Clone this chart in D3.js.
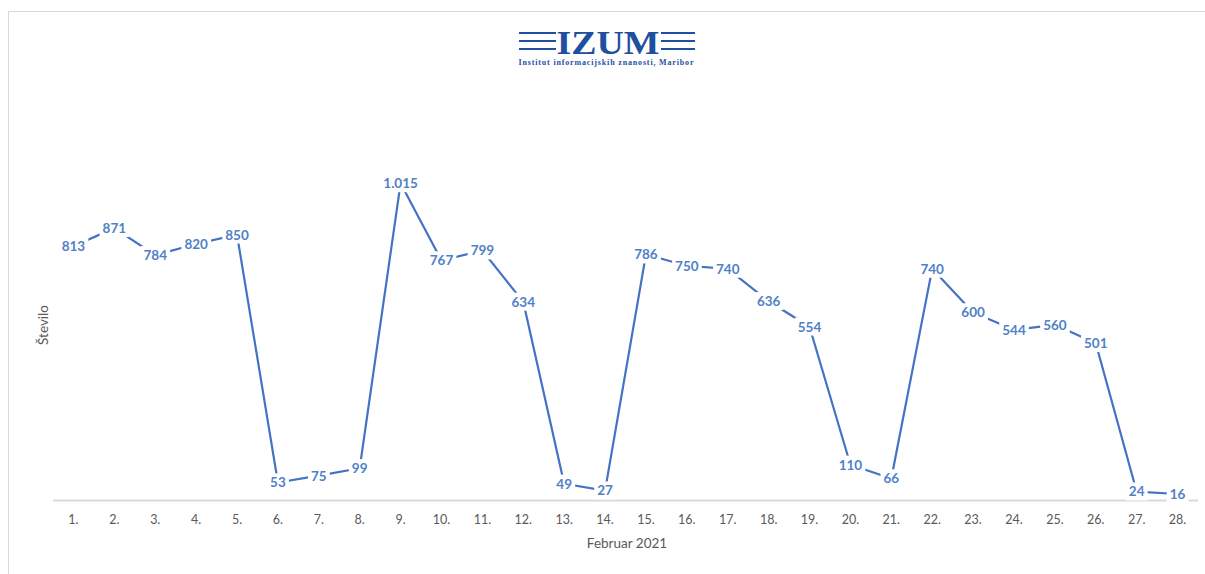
<!DOCTYPE html>
<html>
<head>
<meta charset="utf-8">
<script src="https://cdn.jsdelivr.net/npm/d3@7"></script>
<style>
  body { margin: 0; background: #fff; }
  svg { display: block; }
</style>
</head>
<body>
<svg id="chart" width="1205" height="574"></svg>
<script>
// podatki: dnevi februarja 2021
const days = ["1.", "2.", "3.", "4.", "5.", "6.", "7.", "8.", "9.", "10.", "11.", "12.", "13.", "14.",
  "15.", "16.", "17.", "18.", "19.", "20.", "21.", "22.", "23.", "24.", "25.", "26.", "27.", "28."];
const counts = [813, 871, 784, 820, 850, 53, 75, 99, 1015, 767, 799, 634, 49, 27,
  786, 750, 740, 636, 554, 110, 66, 740, 600, 544, 560, 501, 24, 16];
const xTitle = "Februar 2021";
const yTitle = "Število";

const svg = d3.select("#chart");
const lineColor = "#4472C4";
const labelColor = "#4f81c7";

// okvir
svg.append("rect")
  .attr("x", 8.5).attr("y", 11.5)
  .attr("width", 1300).attr("height", 700)
  .attr("fill", "none")
  .attr("stroke", "#d9d9d9");

// logo IZUM
const logo = svg.append("g").attr("fill", "#1f4f9f");
[33, 41, 49].forEach(y => {
  logo.append("rect").attr("x", 519).attr("y", y - 1).attr("width", 37).attr("height", 2);
  logo.append("rect").attr("x", 661).attr("y", y - 1).attr("width", 34).attr("height", 2);
});
logo.append("text")
  .attr("x", 608).attr("y", 54)
  .attr("text-anchor", "middle")
  .attr("font-family", "Liberation Serif, DejaVu Serif, serif")
  .attr("font-weight", "bold")
  .attr("font-size", 34)
  .attr("textLength", 103)
  .attr("lengthAdjust", "spacingAndGlyphs")
  .text("IZUM");
logo.append("text")
  .attr("x", 606).attr("y", 65)
  .attr("text-anchor", "middle")
  .attr("font-family", "Liberation Serif, DejaVu Serif, serif")
  .attr("font-weight", "bold")
  .attr("font-size", 8)
  .attr("textLength", 175)
  .text("Institut informacijskih znanosti, Maribor");

// skale
const x = d3.scaleBand()
  .domain(days)
  .range([53, 1198]);

const y = d3.scaleLinear()
  .domain([0, 1200])
  .range([499, 499 - 1200 * 0.311]);

const cx = d => x(d) + x.bandwidth() / 2;

// os x
svg.append("line")
  .attr("x1", 53).attr("x2", 1198)
  .attr("y1", 500.5).attr("y2", 500.5)
  .attr("stroke", "#d9d9d9")
  .attr("stroke-width", 2);

svg.append("g")
  .selectAll("text")
  .data(days)
  .join("text")
  .attr("x", d => cx(d))
  .attr("y", 524)
  .attr("text-anchor", "middle")
  .attr("font-family", "Lato, Open Sans, sans-serif")
  .attr("font-size", 12.5)
  .attr("fill", "#595959")
  .text(d => d);

svg.append("text")
  .attr("x", 627).attr("y", 548)
  .attr("text-anchor", "middle")
  .attr("font-family", "Lato, Open Sans, sans-serif")
  .attr("font-size", 13.5)
  .attr("fill", "#595959")
  .text(xTitle);

svg.append("text")
  .attr("transform", "translate(48,325) rotate(-90)")
  .attr("text-anchor", "middle")
  .attr("font-family", "Lato, Open Sans, sans-serif")
  .attr("font-size", 13.5)
  .attr("fill", "#595959")
  .text(yTitle);

// črta
const data = days.map((d, i) => ({ day: d, value: counts[i] }));

const line = d3.line()
  .x(d => cx(d.day))
  .y(d => y(d.value));

svg.append("path")
  .datum(data)
  .attr("fill", "none")
  .attr("stroke", lineColor)
  .attr("stroke-width", 2.2)
  .attr("stroke-linejoin", "round")
  .attr("d", line);

// oznake podatkov (slovenski zapis tisočic)
const fmt = d3.formatLocale({ decimal: ",", thousands: ".", grouping: [3], currency: ["", " €"] }).format(",d");

const labels = svg.append("g")
  .selectAll("g")
  .data(data)
  .join("g")
  .attr("transform", d => `translate(${cx(d.day)},${y(d.value)})`);

labels.append("text")
  .attr("text-anchor", "middle")
  .attr("dy", "0.36em")
  .attr("font-family", "Lato, Open Sans, sans-serif")
  .attr("font-weight", "bold")
  .attr("font-size", 13.5)
  .attr("fill", labelColor)
  .text(d => fmt(d.value));

// bele podlage pod oznakami
labels.each(function() {
  const g = d3.select(this);
  const bb = g.select("text").node().getBBox();
  g.insert("rect", "text")
    .attr("x", bb.x - 3).attr("y", bb.y - 1)
    .attr("width", bb.width + 6).attr("height", bb.height + 2)
    .attr("fill", "#fff");
});
</script>
</body>
</html>
